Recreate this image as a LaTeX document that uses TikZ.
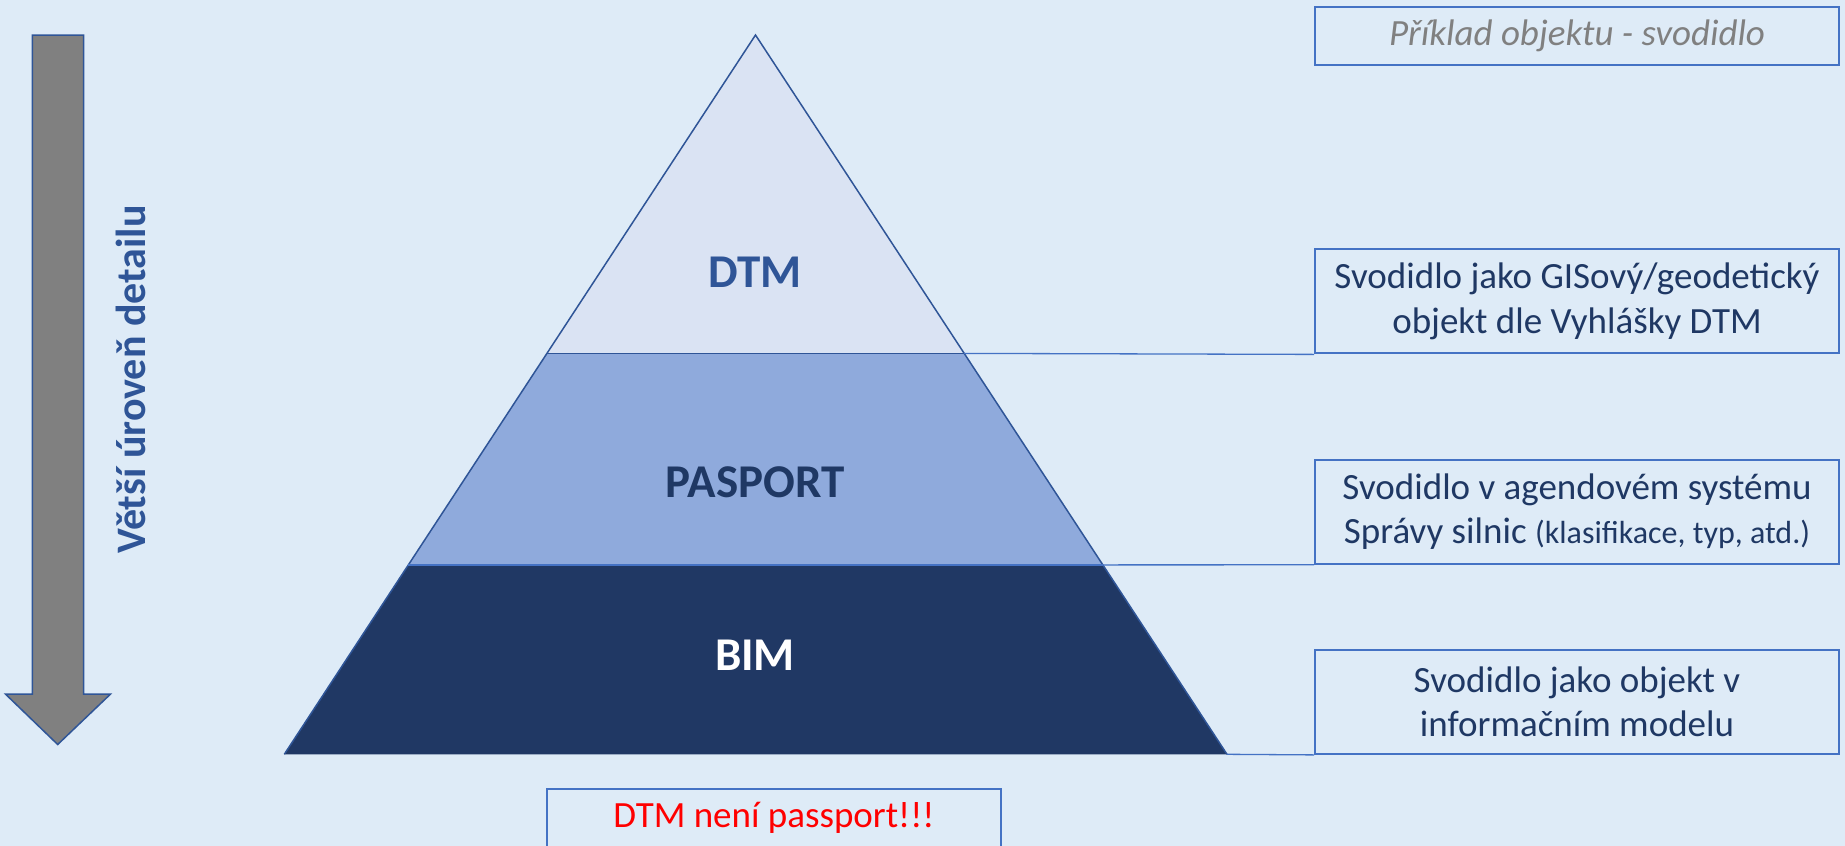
\documentclass[tikz,border=0pt]{standalone}
\usepackage{fontspec}
\setmainfont{Carlito}
\usetikzlibrary{positioning}
\definecolor{bgblue}{RGB}{222,235,247}
\definecolor{dtmfill}{RGB}{218,227,243}
\definecolor{pasfill}{RGB}{143,170,220}
\definecolor{bimfill}{RGB}{32,56,100}
\definecolor{edgeblue}{RGB}{47,85,151}
\definecolor{boxblue}{RGB}{68,114,196}
\definecolor{textnavy}{RGB}{31,56,100}

\begin{document}
\begin{tikzpicture}[x=1pt, y=-1pt,
  layer/.style={font=\fontsize{47}{47}\selectfont\bfseries},
  infobox/.style={rectangle, draw=boxblue, line width=2pt, minimum width=524pt, minimum height=104pt, inner sep=0pt, align=center, text=textnavy, font=\fontsize{37}{44.5}\selectfont},
  link/.style={draw=boxblue, line width=1.3pt}]
\useasboundingbox (0,0) rectangle (1845,846);
\fill[bgblue] (0,0) rectangle (1845,846);
\clip (0,0) rectangle (1845,846);

\draw[edgeblue, fill=gray, line width=1.5pt] (32.4,35) -- (83.6,35) -- (83.6,694) -- (110.6,694) -- (57.7,744.5) -- (5.4,694) -- (32.4,694) -- cycle;
\node (popis) at (145.5, 379.5) [rotate=90, anchor=base, text=edgeblue, font=\fontsize{42}{42}\selectfont\bfseries] {Větší úroveň detailu};

\coordinate (apex) at (755.5, 35);
\coordinate (l1) at (547, 353.4);
\coordinate (r1) at (964, 353.4);
\coordinate (l2) at (408.3, 564.9);
\coordinate (r2) at (1102.7, 564.9);
\coordinate (l3) at (284.3, 754.3);
\coordinate (r3) at (1227, 754.3);

\fill[dtmfill] (apex) -- (r1) -- (l1) -- cycle;
\fill[pasfill] (l1) -- (r1) -- (r2) -- (l2) -- cycle;
\fill[bimfill] (l2) -- (r2) -- (r3) -- (l3) -- cycle;
\draw[edgeblue, line width=1.5pt] (l3) -- (apex) -- (r3);
\draw[edgeblue, line width=1.5pt] (l1) -- (r1);
\draw[boxblue, line width=1.3pt] (l2) -- (r2);

\node (dtm) at (755, 272.5) [layer, text=edgeblue] {DTM};
\node (pasport) at (755, 482) [layer, text=textnavy] {PASPORT};
\node (bim) at (755, 655) [layer, text=white] {BIM};

\node (priklad) at (1577, 35.6) [infobox, minimum height=58pt, text=gray, font=\fontsize{37}{44.5}\selectfont\itshape] {Příklad objektu - svodidlo};
\node (gis) at (1577, 301.4) [infobox] {Svodidlo jako GISový/geodetický\\objekt dle Vyhlášky DTM};
\node (agenda) at (1577, 511.8) [infobox] {Svodidlo v agendovém systému\\Správy silnic {\fontsize{32}{32}\selectfont(klasifikace, typ, atd.)}};
\node (model) at (1577, 701.9) [infobox] {Svodidlo jako objekt v\\informačním modelu};
\node (pozn) at (774, 818) [infobox, minimum width=454pt, minimum height=58pt, text=red] {DTM není passport!!!};

\draw[link] (r1) -- (gis.south west);
\draw[link] (r2) -- (agenda.south west);
\draw[link] (r3) -- (model.south west);
\end{tikzpicture}
\end{document}
